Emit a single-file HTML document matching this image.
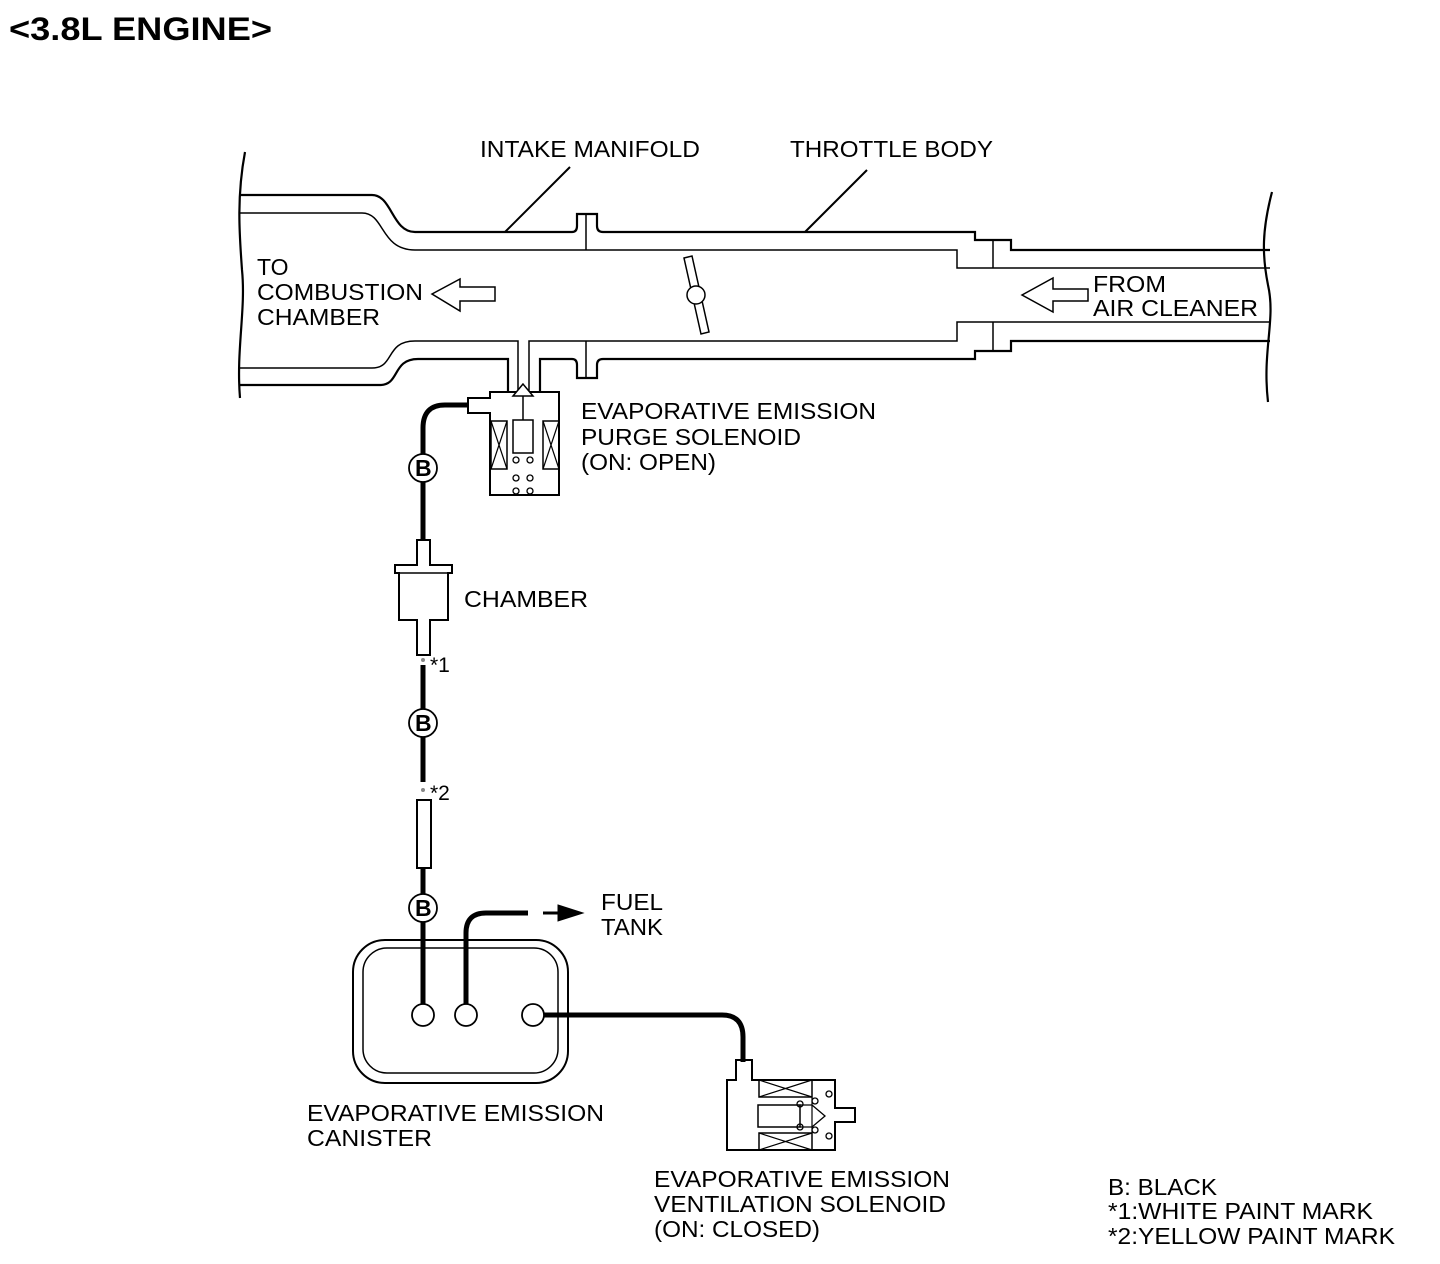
<!DOCTYPE html>
<html><head><meta charset="utf-8"><style>
body{margin:0;background:#fff;}
svg{display:block;}
text{font-family:"Liberation Sans",sans-serif;font-size:23px;fill:#000;}
</style></head><body>
<svg width="1440" height="1264" viewBox="0 0 1440 1264" xmlns="http://www.w3.org/2000/svg">
<text x="9" y="40" style="font-size:32px;font-weight:bold" textLength="263" lengthAdjust="spacingAndGlyphs">&lt;3.8L ENGINE&gt;</text>
<g fill="none" stroke="#000" stroke-width="2.2">
<path d="M245 152 C236 200 240 240 242 270 C246 310 236 350 240 398"/>
<path d="M1272 192 C1262 230 1262 255 1268 285 C1276 320 1262 350 1268 402"/>
<path d="M240 195 H372 C392 195 392 232 415 232 H572 Q577 232 577 226 V214 H597 V226 Q597 232 603 232 H975 V240 H1011 V250 H1270"/>
<path d="M240 213 H362 C385 213 380 250 415 250 H957 V268 H1270" stroke-width="1.5"/>
<line x1="586" y1="214" x2="586" y2="250" stroke-width="1.5"/>
<line x1="993" y1="240" x2="993" y2="268" stroke-width="1.5"/>
<path d="M240 368 H372 C395 368 385 341 415 341 H518 V392" stroke-width="1.5"/>
<path d="M529 392 V341 H957 V322 H1270" stroke-width="1.5"/>
<line x1="586" y1="341" x2="586" y2="378" stroke-width="1.5"/>
<line x1="993" y1="322" x2="993" y2="350" stroke-width="1.5"/>
<path d="M240 385 H380 C400 385 392 359 418 359 H508 V392"/>
<path d="M540 392 V359 H572 Q577 359 577 365 V378 H597 V365 Q597 359 603 359 H975 V351 H1011 V341 H1270"/>
<line x1="505" y1="232" x2="570" y2="167" stroke-width="2"/>
<line x1="805" y1="232" x2="867" y2="170" stroke-width="2"/>
<polygon points="684,258 692,256 709,332 701,334" stroke-width="1.5"/>
<circle cx="696" cy="295" r="9" fill="#fff" stroke-width="1.5"/>
<polygon points="432,294 460,279 460,287 495,287 495,301 460,301 460,311" stroke-width="1.5"/>
<polygon points="1022,295 1053,278 1053,289 1088,289 1088,301 1053,301 1053,312" stroke-width="1.5"/>
<path d="M490 392 H559 V495 H490 V413 H468 V398 H490 Z" stroke-width="2"/>
<polygon points="523,384 513,396 533,396" stroke-width="1.5" fill="#fff"/>
<line x1="523" y1="396" x2="523" y2="420" stroke-width="1.5"/>
<rect x="513" y="420" width="20" height="33" stroke-width="1.5"/>
<rect x="491" y="421" width="16" height="48" stroke-width="1.5"/>
<path d="M491 421 L507 469 M507 421 L491 469" stroke-width="1.2"/>
<rect x="543" y="421" width="16" height="48" stroke-width="1.5"/>
<path d="M543 421 L559 469 M559 421 L543 469" stroke-width="1.2"/>
<g stroke-width="1.3"><circle cx="516" cy="460" r="3"/><circle cx="530" cy="460" r="3"/><circle cx="516" cy="478" r="3"/><circle cx="530" cy="478" r="3"/><circle cx="516" cy="491" r="3"/><circle cx="530" cy="491" r="3"/></g>
<path d="M468 405 H445 Q423 405 423 428 V454" stroke-width="5"/>
<line x1="423" y1="482" x2="423" y2="540" stroke-width="5"/>
<circle cx="423" cy="468" r="14" stroke-width="1.8"/>
<path d="M417 540 V565 H395 V573 H399 V620 H417 V655 H430 V620 H448 V573 H452 V565 H430 V540 Z" stroke-width="2"/>
<line x1="399" y1="573" x2="448" y2="573" stroke-width="1.5"/>
<line x1="423" y1="665" x2="423" y2="709" stroke-width="5"/>
<circle cx="423" cy="723" r="14" stroke-width="1.8"/>
<line x1="423" y1="737" x2="423" y2="782" stroke-width="5"/>
<rect x="417" y="800" width="14" height="68" stroke-width="2"/>
<line x1="423" y1="868" x2="423" y2="894" stroke-width="5"/>
<circle cx="423" cy="908" r="14" stroke-width="1.8"/>
<line x1="423" y1="922" x2="423" y2="1004" stroke-width="5"/>
<rect x="353" y="940" width="215" height="143" rx="32" stroke-width="2"/>
<rect x="363" y="948" width="195" height="125" rx="24" stroke-width="1.5"/>
<circle cx="423" cy="1015" r="11" stroke-width="1.8"/>
<circle cx="466" cy="1015" r="11" stroke-width="1.8"/>
<circle cx="533" cy="1015" r="11" stroke-width="1.8"/>
<path d="M466 1004 V933 Q466 913 486 913 H528" stroke-width="5"/>
<line x1="543" y1="913" x2="560" y2="913" stroke-width="3"/>
<polygon points="558,905 583,913 558,921" fill="#000" stroke-width="1"/>
<path d="M544 1015 H722 Q743 1015 743 1037 V1062" stroke-width="5"/>
<path d="M736 1060 H752 V1080 H835 V1108 H855 V1122 H835 V1150 H727 V1080 H736 Z" stroke-width="2"/>
<rect x="759" y="1080" width="53" height="17" stroke-width="1.5"/>
<path d="M759 1080 L812 1097 M812 1080 L759 1097" stroke-width="1.2"/>
<rect x="759" y="1133" width="53" height="17" stroke-width="1.5"/>
<path d="M759 1133 L812 1150 M812 1133 L759 1150" stroke-width="1.2"/>
<rect x="758" y="1105" width="42" height="22" stroke-width="1.5"/>
<path d="M800 1105 H812 L825 1116 L812 1127 H800" stroke-width="1.3"/>
<line x1="812" y1="1097" x2="812" y2="1133" stroke-width="1.2"/>
<g stroke-width="1.3"><circle cx="800" cy="1104" r="3"/><circle cx="800" cy="1127" r="3"/><circle cx="815" cy="1101" r="3"/><circle cx="815" cy="1130" r="3"/><circle cx="829" cy="1094" r="3"/><circle cx="829" cy="1136" r="3"/></g>
</g>
<g fill="#888"><circle cx="423" cy="660" r="2"/><circle cx="423" cy="790" r="2"/></g>
<g style="font-size:22px;font-weight:bold"><text x="415" y="476">B</text><text x="415" y="731">B</text><text x="415" y="916">B</text></g>
<text x="480" y="157" textLength="220" lengthAdjust="spacingAndGlyphs">INTAKE MANIFOLD</text>
<text x="790" y="157" textLength="203" lengthAdjust="spacingAndGlyphs">THROTTLE BODY</text>
<text x="257" y="275">TO</text>
<text x="257" y="300" textLength="166" lengthAdjust="spacingAndGlyphs">COMBUSTION</text>
<text x="257" y="325" textLength="123" lengthAdjust="spacingAndGlyphs">CHAMBER</text>
<text x="1093" y="292" textLength="73" lengthAdjust="spacingAndGlyphs">FROM</text>
<text x="1093" y="316" textLength="165" lengthAdjust="spacingAndGlyphs">AIR CLEANER</text>
<text x="581" y="419" textLength="295" lengthAdjust="spacingAndGlyphs">EVAPORATIVE EMISSION</text>
<text x="581" y="445" textLength="220" lengthAdjust="spacingAndGlyphs">PURGE SOLENOID</text>
<text x="581" y="470" textLength="135" lengthAdjust="spacingAndGlyphs">(ON: OPEN)</text>
<text x="464" y="607" textLength="124" lengthAdjust="spacingAndGlyphs">CHAMBER</text>
<text x="430" y="672" style="font-size:21px">*1</text>
<text x="430" y="800" style="font-size:21px">*2</text>
<text x="601" y="910" textLength="62" lengthAdjust="spacingAndGlyphs">FUEL</text>
<text x="601" y="935" textLength="62" lengthAdjust="spacingAndGlyphs">TANK</text>
<text x="307" y="1121" textLength="297" lengthAdjust="spacingAndGlyphs">EVAPORATIVE EMISSION</text>
<text x="307" y="1146" textLength="125" lengthAdjust="spacingAndGlyphs">CANISTER</text>
<text x="654" y="1187" textLength="296" lengthAdjust="spacingAndGlyphs">EVAPORATIVE EMISSION</text>
<text x="654" y="1212" textLength="292" lengthAdjust="spacingAndGlyphs">VENTILATION SOLENOID</text>
<text x="654" y="1237" textLength="166" lengthAdjust="spacingAndGlyphs">(ON: CLOSED)</text>
<text x="1108" y="1195" textLength="109" lengthAdjust="spacingAndGlyphs">B: BLACK</text>
<text x="1108" y="1219" textLength="265" lengthAdjust="spacingAndGlyphs">*1:WHITE PAINT MARK</text>
<text x="1108" y="1244" textLength="287" lengthAdjust="spacingAndGlyphs">*2:YELLOW PAINT MARK</text>
</svg>
</body></html>
